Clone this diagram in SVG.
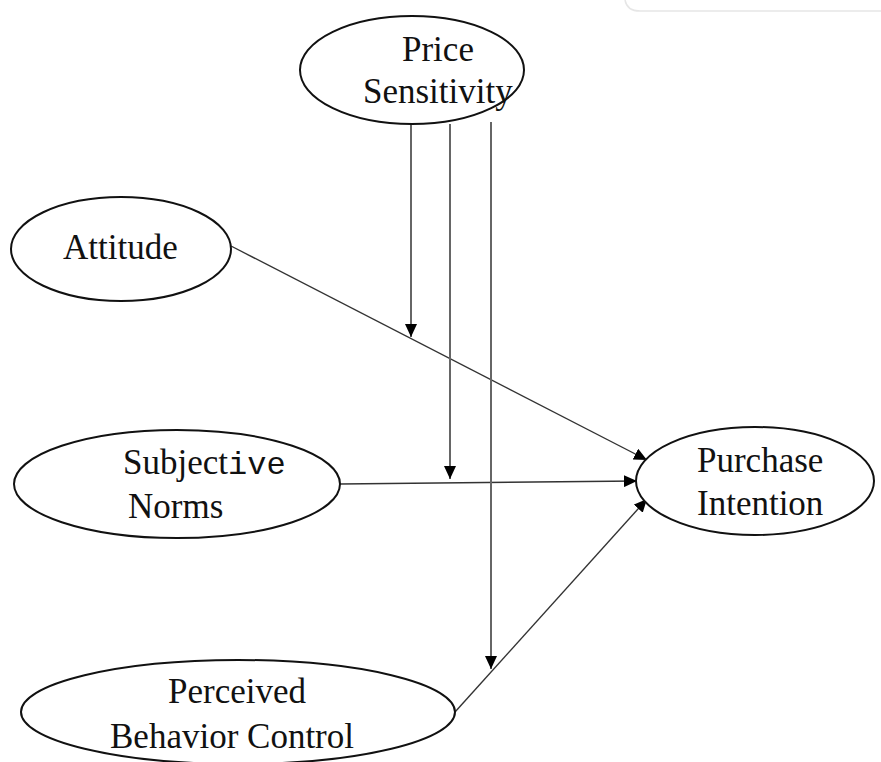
<svg xmlns="http://www.w3.org/2000/svg" width="881" height="762" viewBox="0 0 881 762">
<style>
.node ellipse{fill:#fff;stroke:#111;stroke-width:2}
.lbl{font-family:"Liberation Serif","Times New Roman",serif;font-size:35px;fill:#111}
.mono{font-family:"Liberation Mono","Courier New",monospace;font-size:32px}
.edge{stroke:#333;stroke-width:1.4;fill:none}
.mod{stroke:#666;stroke-width:2;fill:none}
</style>
<defs>
<marker id="ah" markerUnits="userSpaceOnUse" markerWidth="14" markerHeight="12" refX="13" refY="6" orient="auto">
<path d="M0,0 L13,6 L0,12 z" fill="#000"/>
</marker>
</defs>
<rect width="881" height="762" fill="#fff"/>
<path d="M625,0 Q627,11 640,11 L881,11" fill="none" stroke="#e6e6e6" stroke-width="1.5"/>
<g id="connectors">
<line class="edge" x1="231" y1="246" x2="647" y2="460" marker-end="url(#ah)"/>
<line class="edge" x1="340" y1="484" x2="637" y2="481" marker-end="url(#ah)"/>
<line class="edge" x1="455" y1="712" x2="647" y2="499" marker-end="url(#ah)"/>
<line class="mod" x1="411" y1="124" x2="411" y2="337" marker-end="url(#ah)"/>
<line class="mod" x1="450" y1="124" x2="450" y2="479" marker-end="url(#ah)"/>
<line class="mod" x1="491" y1="122" x2="491" y2="669" marker-end="url(#ah)"/>
</g>
<g id="price-sensitivity" class="node">
<ellipse cx="412" cy="70" rx="112" ry="54"/>
<text class="lbl" x="402" y="61">Price</text>
<text class="lbl" x="363" y="103">Sensitivity</text>
</g>
<g id="attitude" class="node">
<ellipse cx="121" cy="249" rx="110" ry="52"/>
<text class="lbl" x="63" y="259">Attitude</text>
</g>
<g id="subjective-norms" class="node">
<ellipse cx="177" cy="484" rx="163" ry="54"/>
<text class="lbl" x="123" y="474">Subject<tspan class="mono">ive</tspan></text>
<text class="lbl" x="128" y="518">Norms</text>
</g>
<g id="purchase-intention" class="node">
<ellipse cx="755" cy="481" rx="119" ry="54"/>
<text class="lbl" x="697" y="472">Purchase</text>
<text class="lbl" x="697" y="515">Intention</text>
</g>
<g id="perceived-behavior-control" class="node">
<ellipse cx="238" cy="712" rx="217" ry="52"/>
<text class="lbl" x="168" y="703">Perceived</text>
<text class="lbl" x="110" y="748">Behavior Control</text>
</g>
</svg>
